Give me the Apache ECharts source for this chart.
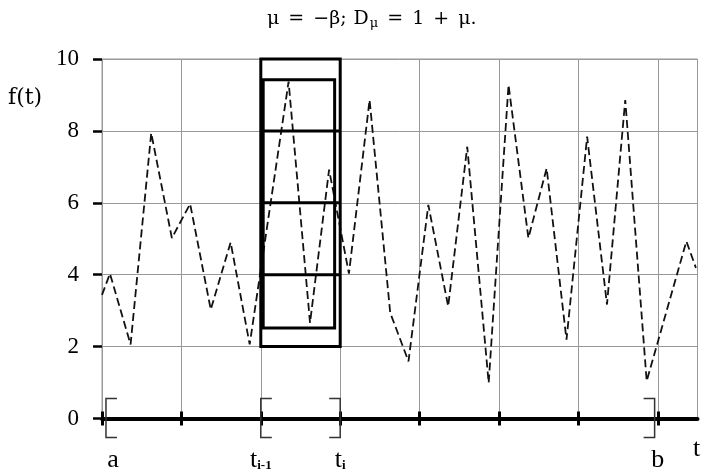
<!DOCTYPE html>
<html>
<head>
<meta charset="utf-8">
<script src="https://cdn.jsdelivr.net/npm/echarts@6/dist/echarts.min.js"></script>
<style>
  html, body { margin: 0; padding: 0; background: #fff; }
  #main { width: 709px; height: 476px; }
</style>
</head>
<body>
<div id="main"></div>
<script>
// 折线的点 (t, f(t))
const tVals = [0, 0.10, 0.36, 0.62, 0.88, 1.11, 1.37, 1.62, 1.86, 2.35, 2.62, 2.86, 3.11, 3.37,
  3.63, 3.86, 4.11, 4.36, 4.60, 4.87, 5.12, 5.37, 5.60, 5.85, 6.11, 6.36, 6.59, 6.86, 7.36, 7.48];
const fVals = [3.44, 4.03, 2.06, 7.94, 5.02, 5.97, 3.03, 4.90, 2.06, 9.37, 2.66, 6.92, 4.03, 8.86,
  2.94, 1.59, 5.94, 3.12, 7.56, 0.99, 9.28, 5.02, 6.96, 2.19, 7.84, 3.17, 8.86, 1.04, 4.93, 4.19];

// 横轴刻度和标签
const tickTs = [0, 1, 2, 3, 4, 5, 6, 7];
const labelTs = [0, 2, 3, 7];
const labelTexts = ["{a|a}", "{n|t}{s|i-1}", "{n|t}{s|i}", "{n|b}"];

// 矩形 [t0, t1, f0, f1]
const boxes = [
  [2, 3, 2, 10],
  [2.03, 2.93, 2.52, 9.42],
];
// 矩形内横线 [t0, t1, f]
const cellLines = [
  [2, 3, 4],
  [2, 3, 6],
  [2, 3, 8],
];
// 括号 [t, 方向 1 = "[", -1 = "]"]
const bracketT = [0.05, 2, 3, 6.96];
const bracketDir = [1, 1, -1, -1];

const serif = "Liberation Serif";
const mathFont = "DejaVu Serif";

var myChart = echarts.init(document.getElementById("main"));

const lineData = tVals.map((t, i) => [t, fVals[i]]);

var option = {
  animation: false,
  title: [
    {
      text: "{n|μ}{o|=}{n|−β;}{sp| }{n|D}{s|μ}{o|=}{n|1}{o|+}{n|μ.}",
      left: 262,
      top: 3,
      textStyle: {
        fontWeight: "normal",
        rich: {
          n: { fontFamily: mathFont, fontSize: 19, fontWeight: "normal", color: "#000" },
          o: { fontFamily: mathFont, fontSize: 19, fontWeight: "normal", color: "#000", padding: [0, 9, 0, 9] },
          sp: { fontFamily: mathFont, fontSize: 19, color: "#000", padding: [0, 1, 0, 0] },
          s: { fontFamily: mathFont, fontSize: 13, fontWeight: "normal", color: "#000", padding: [9, 0, 0, 1] },
        },
      },
    },
    {
      text: "f(t)",
      left: 3,
      top: 82,
      textStyle: { fontFamily: mathFont, fontSize: 22, fontWeight: "normal", color: "#000" },
    },
  ],
  grid: {
    left: 102,
    right: 11.5,
    top: 59,
    bottom: 57.5,
    show: true,
    borderColor: "#999",
    borderWidth: 1,
  },
  xAxis: [
    {
      type: "value",
      min: 0,
      max: 7.5,
      interval: 1,
      axisLine: { lineStyle: { color: "#000", width: 4 } },
      axisTick: { customValues: tickTs, length: 7, lineStyle: { color: "#000", width: 3 } },
      splitLine: { lineStyle: { color: "#999", width: 1 } },
      axisLabel: {
        customValues: labelTs,
        margin: 29,
        formatter: function (v) {
          return labelTexts[labelTs.indexOf(v)] || "";
        },
        rich: {
          n: { fontFamily: serif, fontSize: 26, color: "#000" },
          a: { fontFamily: serif, fontSize: 26, color: "#000", padding: [0, 0, 0, 22] },
          s: { fontFamily: serif, fontSize: 13, fontWeight: "bold", color: "#000", padding: [10, 0, 0, 0] },
        },
      },
      name: "t",
      nameLocation: "end",
      nameGap: -4.5,
      nameTextStyle: {
        fontFamily: serif,
        fontSize: 26,
        color: "#000",
        align: "left",
        verticalAlign: "top",
        padding: [18, 0, 0, 0],
      },
    },
    {
      type: "value",
      min: 0,
      max: 7.5,
      position: "bottom",
      axisLine: { show: false },
      axisTick: { customValues: tickTs, inside: true, length: 7, lineStyle: { color: "#000", width: 3 } },
      axisLabel: { show: false },
      splitLine: { show: false },
    },
  ],
  yAxis: {
    type: "value",
    min: 0,
    max: 10,
    interval: 2,
    axisLine: { show: false },
    axisTick: { show: true, length: 9, lineStyle: { color: "#000", width: 2.5 } },
    splitLine: { lineStyle: { color: "#999", width: 1 } },
    axisLabel: { margin: 23, fontFamily: serif, fontSize: 23, color: "#000" },
  },
  series: [
    {
      name: "f(t)",
      type: "line",
      data: lineData,
      showSymbol: false,
      lineStyle: { color: "#111", width: 1.8, type: [8, 4] },
      z: 2,
    },
    {
      // 矩形
      type: "custom",
      data: boxes,
      z: 3,
      renderItem: function (params, api) {
        const p0 = api.coord([api.value(0), api.value(3)]);
        const p1 = api.coord([api.value(1), api.value(2)]);
        return {
          type: "rect",
          shape: { x: p0[0], y: p0[1], width: p1[0] - p0[0], height: p1[1] - p0[1] },
          style: { fill: null, stroke: "#000", lineWidth: 3 },
        };
      },
    },
    {
      // 矩形内横线
      type: "custom",
      data: cellLines,
      z: 3,
      renderItem: function (params, api) {
        const p0 = api.coord([api.value(0), api.value(2)]);
        const p1 = api.coord([api.value(1), api.value(2)]);
        return {
          type: "line",
          shape: { x1: p0[0], y1: p0[1], x2: p1[0], y2: p1[1] },
          style: { stroke: "#000", lineWidth: 3 },
        };
      },
    },
    {
      // 括号
      type: "custom",
      data: bracketT.map((t, i) => [t, bracketDir[i]]),
      clip: false,
      z: 4,
      renderItem: function (params, api) {
        const p = api.coord([api.value(0), 0]);
        const d = api.value(1);
        return {
          type: "polyline",
          shape: {
            points: [
              [p[0] + d * 11, p[1] - 20],
              [p[0], p[1] - 20],
              [p[0], p[1] + 19],
              [p[0] + d * 11, p[1] + 19],
            ],
          },
          style: { fill: null, stroke: "#333", lineWidth: 1.5 },
        };
      },
    },
  ],
};

myChart.setOption(option);
</script>
</body>
</html>
